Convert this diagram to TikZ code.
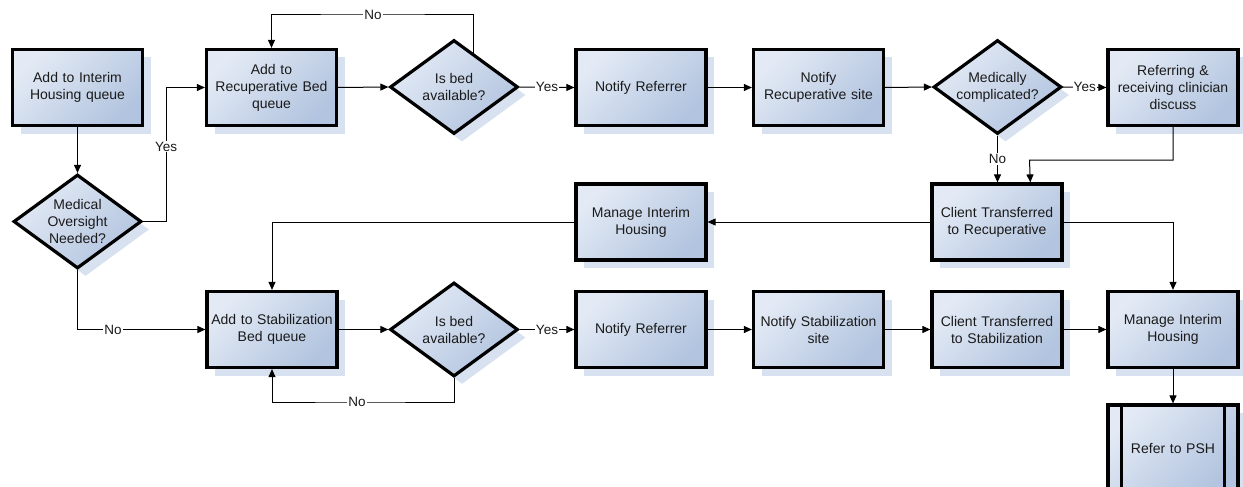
\documentclass[tikz,border=0pt]{standalone}
\usepackage{fontspec}
\setmainfont{Liberation Sans}
\usetikzlibrary{shapes.geometric,arrows.meta,shadows,calc}
\definecolor{fillA}{HTML}{E3EAF5}
\definecolor{fillB}{HTML}{B2C4DF}
\definecolor{shad}{HTML}{D7E1F0}
\definecolor{txt}{HTML}{1A1A1A}
\begin{document}
\begin{tikzpicture}[x=1pt,y=-1pt,
  font=\fontsize{14}{17}\selectfont, text=txt,
  base/.style={draw=black, line width=3.2pt, top color=fillA, bottom color=fillB, shading angle=45,
    drop shadow={shadow xshift=8pt, shadow yshift=-8pt, fill=shad, opacity=1}},
  proc/.style={base, rectangle, minimum width=130pt, minimum height=76pt, text width=126pt, align=center, inner sep=0pt},
  dec/.style={base, diamond, shape aspect=1.36, minimum width=128pt, minimum height=94pt, align=center, inner sep=0pt},
  arr/.style={draw=black, line width=1pt, -{Triangle[length=8pt,width=7pt]}},
  lab/.style={fill=white, inner sep=1pt, text=txt, font=\fontsize{13.5}{16}\selectfont}]
\useasboundingbox (0,0) rectangle (1243,487);

\node[proc] (a) at (77.5,87.5) {Add to Interim\\Housing queue};
\node[proc] (b) at (271.5,87.5) {Add to\\Recuperative Bed\\queue};
\node[dec] (d1) at (77.5,221.5) {Medical\\Oversight\\Needed?};
\node[dec] (d2) at (454,87) {Is bed\\available?};
\node[proc] (nr1) at (641,87.5) {Notify Referrer};
\node[proc] (nrs) at (818.5,87.5) {Notify\\Recuperative site};
\node[dec] (mc) at (997.5,87) {Medically\\complicated?};
\node[proc] (ref) at (1173,87.5) {Referring \&\\receiving clinician\\discuss};
\node[proc] (ctr) at (997,222) {Client Transferred\\to Recuperative};
\node[proc] (mih1) at (641,222) {Manage Interim\\Housing};
\node[proc] (stab) at (272,329.5) {Add to Stabilization\\Bed queue};
\node[dec] (d3) at (454,329.5) {Is bed\\available?};
\node[proc] (nr2) at (641,329.5) {Notify Referrer};
\node[proc] (nss) at (818.5,329.5) {Notify Stabilization\\site};
\node[proc] (cts) at (997,329.5) {Client Transferred\\to Stabilization};
\node[proc] (mih2) at (1173,329.5) {Manage Interim\\Housing};
\node[proc, minimum height=86pt] (psh) at (1173,448) {Refer to PSH};
\draw[line width=3.2pt] ($(psh.north west)+(15,0)$) -- ($(psh.south west)+(15,0)$);
\draw[line width=3.2pt] ($(psh.north east)+(-15,0)$) -- ($(psh.south east)+(-15,0)$);

\draw[arr] (a.south) -- (d1.north);
\draw[arr] (d1.east) -- ++(23,0) |- (b.west) node[lab,pos=0.28]{Yes};
\draw[arr] (b.east) -- (d2.west);
\coordinate (d2r) at ($(d2.north)!0.3!(d2.east)$);
\draw[arr] (d2r) |- (373,15) node[lab]{No} -| (b.north);
\draw[arr] (d2.east) -- (nr1.west) node[lab,midway]{Yes};
\draw[arr] (nr1.east) -- (nrs.west);
\draw[arr] (nrs.east) -- (mc.west);
\draw[arr] (mc.east) -- (ref.west) node[lab,midway]{Yes};
\draw[arr] (mc.south) -- (mc.south |- ctr.north) node[lab,midway]{No};
\draw[arr] (ref.south) |- (1029.5,160) -- ($(ctr.north)!0.5!(ctr.north east)$);
\draw[arr] (ctr.west) -- (mih1.east);
\draw[arr] (mih1.west) -| (stab.north);
\draw[arr] (ctr.east) -| (mih2.north);
\draw[arr] (d1.south) |- (113,329.5) node[lab]{No} -- (stab.west);
\draw[arr] (stab.east) -- (d3.west);
\draw[arr] (d3.south) |- (357,402) node[lab]{No} -| (stab.south);
\draw[arr] (d3.east) -- (nr2.west) node[lab,midway]{Yes};
\draw[arr] (nr2.east) -- (nss.west);
\draw[arr] (nss.east) -- (cts.west);
\draw[arr] (cts.east) -- (mih2.west);
\draw[arr] (mih2.south) -- (psh.north);
\end{tikzpicture}
\end{document}
